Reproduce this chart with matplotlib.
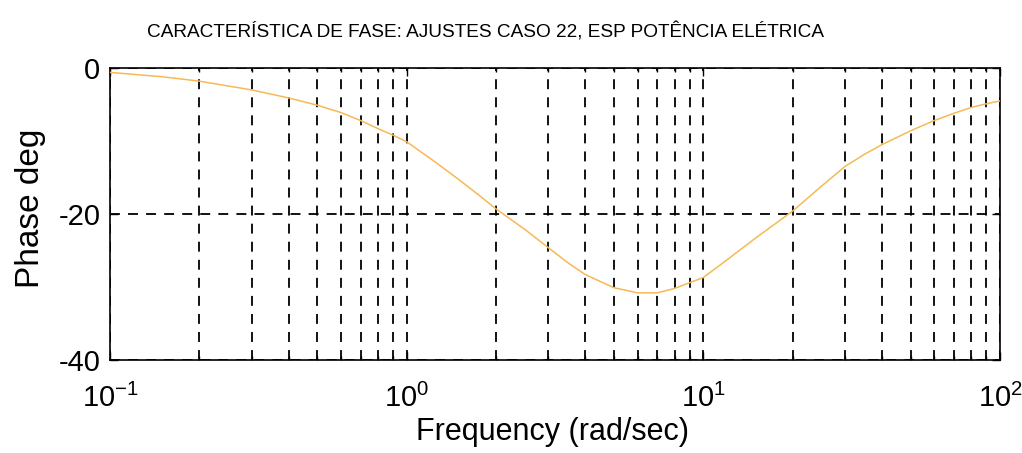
import matplotlib
matplotlib.use("Agg")
import matplotlib.pyplot as plt
from matplotlib.ticker import LogLocator, FixedLocator

plt.rcParams['font.family'] = ['Liberation Sans', 'DejaVu Sans']
plt.rcParams['mathtext.fontset'] = 'custom'
plt.rcParams['mathtext.rm'] = 'Liberation Sans'
plt.rcParams['mathtext.it'] = 'Liberation Sans:italic'
plt.rcParams['mathtext.bf'] = 'Liberation Sans:bold'
plt.rcParams['axes.unicode_minus'] = False

# Phase response of the stabiliser (rad/sec vs degrees)
freq = [0.1, 0.15, 0.2, 0.3, 0.4, 0.5, 0.6, 0.7, 0.8, 0.9, 1.0, 1.25, 1.5,
        1.75, 2.0, 2.5, 3.0, 3.5, 4.0, 5.0, 6.0, 7.0, 8.0, 9.0, 10.0, 12.0,
        15.0, 20.0, 25.0, 30.0, 35.0, 40.0, 50.0, 60.0, 70.0, 80.0, 90.0,
        100.0]
phase = [-0.6, -1.2, -1.8, -3.0, -4.1, -5.1, -6.1, -7.2, -8.3, -9.2, -10.1,
         -12.9, -15.3, -17.4, -19.3, -22.1, -24.6, -26.7, -28.3, -30.1,
         -30.8, -30.8, -30.2, -29.4, -28.7, -26.3, -23.3, -19.6, -16.2,
         -13.5, -11.8, -10.5, -8.6, -7.2, -6.2, -5.4, -4.9, -4.5]
y_ticks = [0, -20, -40]

title = "CARACTERÍSTICA DE FASE: AJUSTES CASO 22, ESP POTÊNCIA ELÉTRICA"

fig = plt.figure(figsize=(10.22, 4.53), dpi=100)
ax = fig.add_axes([110 / 1022, 1 - 360 / 453, 890 / 1022, 292 / 453])

ax.semilogx(freq, phase, color='#f6b955', lw=1.1, zorder=3)

ax.set_xlim(0.1, 100)
ax.set_ylim(-40, 0)
ax.yaxis.set_major_locator(FixedLocator(y_ticks))
ax.xaxis.set_major_locator(LogLocator(base=10, numticks=10))
ax.xaxis.set_minor_locator(LogLocator(base=10, subs=range(2, 10), numticks=20))

grid_kw = dict(color='black', lw=1.3, linestyle=(0, (5.5, 4.5)))
ax.grid(True, which='major', axis='both', **grid_kw)
ax.grid(True, which='minor', axis='x', **grid_kw)

ax.tick_params(axis='both', which='major', direction='in', length=6, width=1,
               top=True, right=True, labelsize=21)
ax.tick_params(axis='x', which='major', pad=17)
ax.tick_params(axis='y', which='major', pad=7)
ax.tick_params(axis='x', which='minor', direction='in', length=3, width=1,
               top=True, bottom=True)
for s in ax.spines.values():
    s.set_linewidth(1.2)

fig.text(552 / 1022, 1 - 432 / 453, "Frequency (rad/sec)", ha='center',
         va='center', fontsize=22)
fig.text(31 / 1022, 1 - 208 / 453, "Phase deg", ha='center', va='center',
         rotation=90, fontsize=24)

fig.text(485 / 1022, 1 - 32 / 453, title, ha='center', va='center',
         fontsize=13.7)

fig.savefig("out.png", dpi=100, facecolor='white')
